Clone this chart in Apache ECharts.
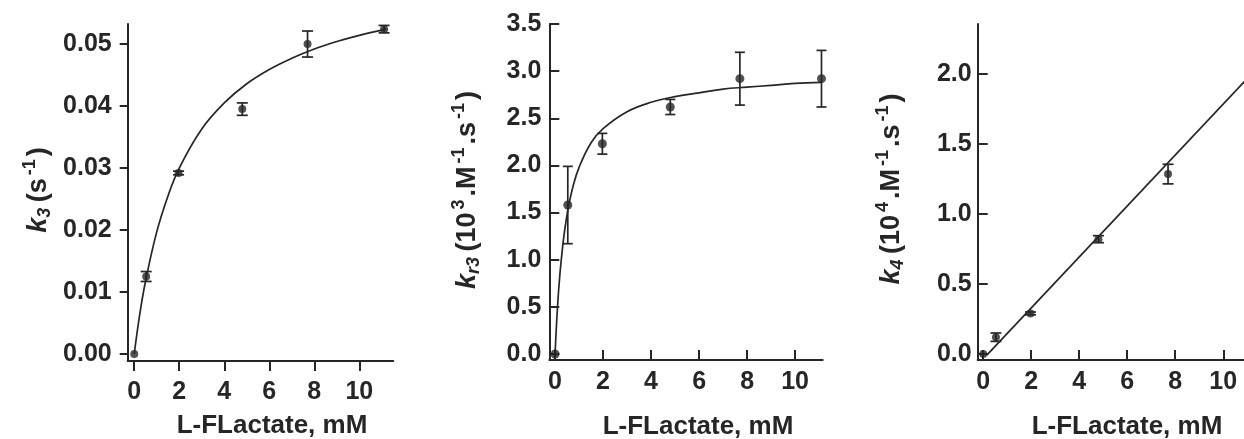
<!DOCTYPE html>
<html>
<head>
<meta charset="UTF-8">
<title>L-FLactate kinetics</title>
<script type="text/javascript" src="https://cdn.jsdelivr.net/npm/echarts@6/dist/echarts.min.js"></script>
</head>
<body style="margin:0;background:#fff;">
	<div id="box" style="width: 1244px; height: 439px;"></div>

	<script type="text/javascript">
		// concentrations of L-FLactate (mM)
		var conc = [0, 0.53, 1.97, 4.8, 7.7, 11.1];

		// left panel: k3 (s-1)
		var k3 = [0, 0.0125, 0.0292, 0.0395, 0.0500, 0.0524];
		var k3Err = [0, 0.0008, 0.0003, 0.001, 0.0021, 0.0006];
		var fit1X = [0, 0.25, 0.5, 1, 1.5, 2, 3, 4, 5, 6, 7, 8, 9, 10, 11.2];
		var fit1Y = [0, 0.0065, 0.0117, 0.0197, 0.0255, 0.0300, 0.0363, 0.0405, 0.0436, 0.0459, 0.0477, 0.0492, 0.0504, 0.0514, 0.0524];

		// middle panel: kr3 (10^3 M-1 s-1)
		var kr3 = [0, 1.58, 2.23, 2.62, 2.92, 2.92];
		var kr3Err = [0, 0.41, 0.11, 0.08, 0.28, 0.30];
		var fit2X = [0, 0.1, 0.2, 0.3, 0.4, 0.55, 0.75, 1, 1.5, 2, 3, 4, 5, 6, 7, 8, 9, 10, 11.1];
		var fit2Y = [0, 0.49, 0.84, 1.10, 1.31, 1.55, 1.78, 1.98, 2.24, 2.39, 2.57, 2.67, 2.73, 2.77, 2.81, 2.83, 2.85, 2.87, 2.88];

		// right panel: k4 (10^4 M-1 s-1)
		var k4 = [0, 0.12, 0.29, 0.82, 1.285, 2.1];
		var k4Err = [0, 0.03, 0.01, 0.025, 0.07, 0.26];
		var fit3X = [0.15, 11.1];
		var fit3Y = [-0.008, 1.985];

		// tick labels
		var xTicks = [0, 2, 4, 6, 8, 10];
		var y1Ticks = [0, 0.01, 0.02, 0.03, 0.04, 0.05];
		var y2Ticks = [0, 0.5, 1.0, 1.5, 2.0, 2.5, 3.0, 3.5];
		var y3Ticks = [0, 0.5, 1.0, 1.5, 2.0];

		var ink = '#262626';
		var font = '"Liberation Sans", Arial, sans-serif';
		var tickFont = 25;

		function pairs(xs, ys) {
			var out = [];
			for (var i = 0; i < xs.length; i++) out.push([xs[i], ys[i]]);
			return out;
		}
		function triples(xs, ys, es) {
			var out = [];
			for (var i = 0; i < xs.length; i++) out.push([xs[i], ys[i], es[i]]);
			return out;
		}

		function errBars(cap) {
			return function (params, api) {
				var x = api.value(0), y = api.value(1), e = api.value(2);
				if (!e) return null;
				var t = api.coord([x, y + e]);
				var b = api.coord([x, y - e]);
				var st = { stroke: ink, lineWidth: 1.7 };
				return {
					type: 'group',
					children: [
						{ type: 'line', shape: { x1: t[0], y1: t[1], x2: b[0], y2: b[1] }, style: st },
						{ type: 'line', shape: { x1: t[0] - cap, y1: t[1], x2: t[0] + cap, y2: t[1] }, style: st },
						{ type: 'line', shape: { x1: b[0] - cap, y1: b[1], x2: b[0] + cap, y2: b[1] }, style: st }
					]
				};
			};
		}

		function xAxisFor(i, min, max, inside, margin) {
			return {
				type: 'value', gridIndex: i, min: min, max: max,
				axisLine: { onZero: false, lineStyle: { color: ink, width: 2 } },
				axisTick: { inside: inside, length: 10, customValues: xTicks, lineStyle: { color: ink, width: 2 } },
				axisLabel: { customValues: xTicks, margin: margin, color: ink, fontFamily: font, fontWeight: 'bold', fontSize: tickFont },
				splitLine: { show: false }
			};
		}
		function yAxisFor(i, min, max, ticks, dec, inside, margin) {
			return {
				type: 'value', gridIndex: i, min: min, max: max,
				axisLine: { onZero: false, lineStyle: { color: ink, width: 2 } },
				axisTick: { inside: inside, length: inside ? 10 : 8, customValues: ticks, lineStyle: { color: ink, width: 2 } },
				axisLabel: {
					customValues: ticks, margin: margin, color: ink, fontFamily: font, fontWeight: 'bold', fontSize: tickFont,
					formatter: function (v) { return v.toFixed(dec); }
				},
				splitLine: { show: false }
			};
		}

		var rich = {
			k: { fontFamily: font, fontWeight: 'bold', fontStyle: 'italic', fontSize: 27, color: ink },
			sub: { fontFamily: font, fontWeight: 'bold', fontStyle: 'italic', fontSize: 18, color: ink, padding: [13, 2, 0, 0] },
			n: { fontFamily: font, fontWeight: 'bold', fontSize: 27, color: ink },
			sup: { fontFamily: font, fontWeight: 'bold', fontSize: 18, color: ink, padding: [0, 3, 18, 3] }
		};

		function yTitle(x, y, text) {
			return {
				type: 'text', x: x, y: y, rotation: Math.PI / 2,
				style: { text: text, rich: rich, align: 'center', verticalAlign: 'middle', fill: ink }
			};
		}
		function xTitle(x, y) {
			return {
				type: 'text', x: x, y: y,
				style: { text: 'L-FLactate, mM', font: 'bold 26px ' + font, fill: ink, align: 'center', verticalAlign: 'middle' }
			};
		}

		var myChart = echarts.init(document.getElementById('box'), null, { renderer: 'canvas' });
		myChart.setOption({
			animation: false,
			backgroundColor: '#fff',
			grid: [
				{ left: 127.7, top: 24, width: 265.6, height: 337, outerBoundsMode: 'none', containLabel: false },
				{ left: 549.3, top: 24, width: 273.4, height: 336, outerBoundsMode: 'none', containLabel: false },
				{ left: 977.7, top: 24, width: 273.4, height: 336, outerBoundsMode: 'none', containLabel: false }
			],
			xAxis: [
				xAxisFor(0, -0.29, 11.51, false, 19),
				xAxisFor(1, -0.24, 11.15, true, 10),
				xAxisFor(2, -0.23, 11.16, true, 10)
			],
			yAxis: [
				yAxisFor(0, -0.00113, 0.05323, y1Ticks, 2, false, 16),
				yAxisFor(1, -0.0636, 3.5, y2Ticks, 1, true, 8),
				yAxisFor(2, -0.0429, 2.357, y3Ticks, 1, true, 6)
			],
			graphic: [
				yTitle(39, 190, '{k|k}{sub|3} {n|(s}{sup|-1}{n|)}'),
				yTitle(468, 190, '{k|k}{sub|r3} {n|(10}{sup|3}{n|.M}{sup|-1}{n|.s}{sup|-1}{n|)}'),
				yTitle(892, 189, '{k|k}{sub|4} {n|(10}{sup|4}{n|.M}{sup|-1}{n|.s}{sup|-1}{n|)}'),
				xTitle(272, 426),
				xTitle(698, 427),
				xTitle(1127, 427)
			],
			series: [
				{ type: 'line', xAxisIndex: 0, yAxisIndex: 0, data: pairs(fit1X, fit1Y), smooth: 0.4, showSymbol: false, lineStyle: { color: ink, width: 1.7 } },
				{ type: 'custom', xAxisIndex: 0, yAxisIndex: 0, data: triples(conc, k3, k3Err), renderItem: errBars(5.5) },
				{ type: 'scatter', xAxisIndex: 0, yAxisIndex: 0, data: pairs(conc, k3), symbolSize: 8, itemStyle: { color: ink } },

				{ type: 'line', xAxisIndex: 1, yAxisIndex: 1, data: pairs(fit2X, fit2Y), smooth: 0.4, showSymbol: false, lineStyle: { color: ink, width: 1.7 } },
				{ type: 'custom', xAxisIndex: 1, yAxisIndex: 1, data: triples(conc, kr3, kr3Err), renderItem: errBars(5) },
				{ type: 'scatter', xAxisIndex: 1, yAxisIndex: 1, data: pairs(conc, kr3), symbolSize: 9, itemStyle: { color: ink } },

				{ type: 'line', xAxisIndex: 2, yAxisIndex: 2, data: pairs(fit3X, fit3Y), showSymbol: false, lineStyle: { color: ink, width: 1.7 } },
				{ type: 'custom', xAxisIndex: 2, yAxisIndex: 2, data: triples(conc, k4, k4Err), renderItem: errBars(5.5) },
				{ type: 'scatter', xAxisIndex: 2, yAxisIndex: 2, data: pairs(conc, k4), symbolSize: 8, itemStyle: { color: ink } }
			]
		});
	</script>

</body>
</html>
